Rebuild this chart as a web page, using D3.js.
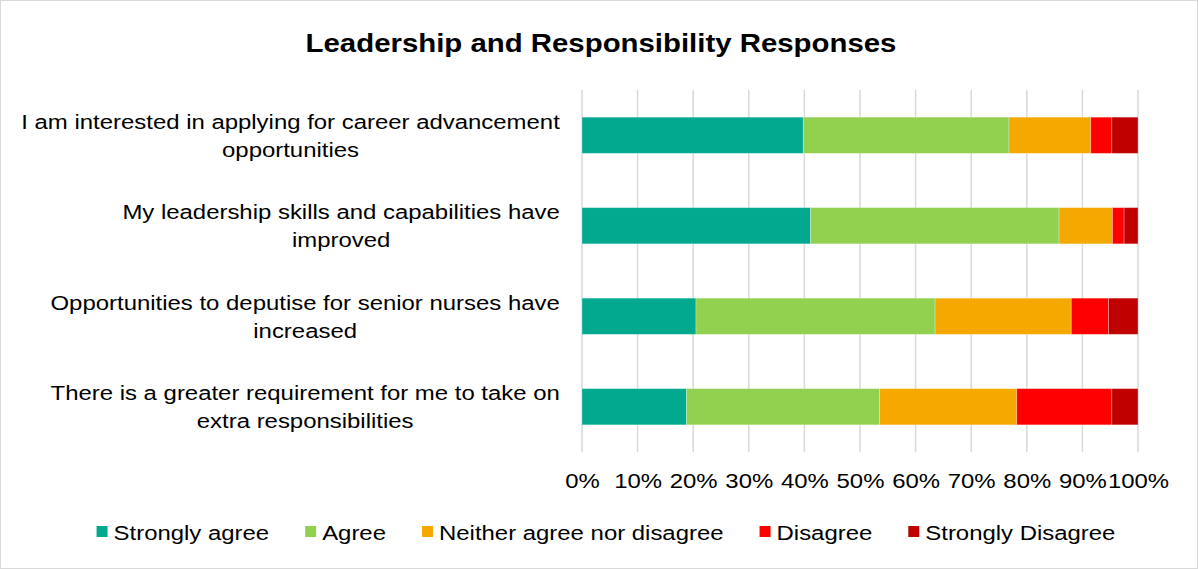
<!DOCTYPE html>
<html>
<head>
<meta charset="utf-8">
<script src="https://cdn.jsdelivr.net/npm/d3@7"></script>
<style>
  html, body { margin: 0; padding: 0; background: #fff; }
  svg { display: block; font-family: "Liberation Sans", Arial, sans-serif; }
</style>
</head>
<body>
<svg id="chart" width="1198" height="569"></svg>
<script>
// Survey statements (top to bottom) and response shares in percent
const statements = [
  ["I am interested in applying for career advancement", "opportunities"],
  ["My leadership skills and capabilities have", "improved"],
  ["Opportunities to deputise for senior nurses have", "increased"],
  ["There is a greater requirement for me to take on", "extra responsibilities"]
];
const responseLabels = ["Strongly agree", "Agree", "Neither agree nor disagree", "Disagree", "Strongly Disagree"];
const stronglyAgree = [39.8, 41.1, 20.5, 18.8];
const agree         = [37.0, 44.7, 43.0, 34.7];
const neither       = [14.7,  9.6, 24.5, 24.7];
const disagree      = [ 3.8,  2.1,  6.7, 17.1];
const stronglyDis   = [ 4.7,  2.5,  5.3,  4.7];
const tickValues = [0, 10, 20, 30, 40, 50, 60, 70, 80, 90, 100];
const palette = ["#02a98f", "#92d050", "#f5a800", "#ff0000", "#c00000"];

const seriesValues = [stronglyAgree, agree, neither, disagree, stronglyDis];
const rows = statements.map((s, i) => {
  const r = { id: i };
  responseLabels.forEach((k, j) => { r[k] = seriesValues[j][i]; });
  return r;
});

const svg = d3.select("#chart");
const W = 1198, H = 569;
const plot = { left: 582, right: 1138, top: 90, bottom: 452 };
const sx = 1.14;   // the chart's text face is set slightly wide
const fs = 21;

// outer frame
svg.append("rect")
  .attr("x", 0.5).attr("y", 0.5).attr("width", W - 1).attr("height", H - 1)
  .attr("fill", "#fff").attr("stroke", "#d9d9d9");

// title
svg.append("g").attr("transform", `translate(601,52) scale(1.13,1)`)
  .append("text")
  .attr("text-anchor", "middle")
  .attr("font-size", 26).attr("font-weight", "bold").attr("fill", "#000")
  .text("Leadership and Responsibility Responses");

const x = d3.scaleLinear().domain([0, 100]).range([plot.left, plot.right]);
const y = d3.scaleBand().domain(d3.range(statements.length))
  .range([plot.top, plot.bottom]).paddingInner(0.6).paddingOuter(0.3);

// vertical gridlines
svg.append("g")
  .selectAll("line").data(tickValues).join("line")
  .attr("x1", d => x(d)).attr("x2", d => x(d))
  .attr("y1", plot.top).attr("y2", plot.bottom)
  .attr("stroke", "#d9d9d9").attr("stroke-width", 1.5);

// stacked bars
const stack = d3.stack().keys(responseLabels)(rows);
svg.append("g")
  .selectAll("g").data(stack).join("g")
  .attr("fill", (d, i) => palette[i])
  .selectAll("rect").data(d => d).join("rect")
  .attr("x", d => x(d[0]))
  .attr("width", d => x(Math.min(d[1], 100)) - x(d[0]))
  .attr("y", d => y(d.data.id))
  .attr("height", y.bandwidth())
  .attr("stroke", "rgba(255,255,255,0.35)").attr("stroke-width", 0.8);

// x axis tick labels
const xAxis = d3.axisBottom(x).tickValues(tickValues).tickSize(0).tickFormat(d => d + "%");
const gx = svg.append("g").attr("transform", `translate(0,${plot.bottom})`).call(xAxis);
gx.select(".domain").remove();
gx.selectAll("text")
  .attr("font-size", fs).attr("fill", "#000")
  .attr("font-family", "Liberation Sans, Arial, sans-serif")
  .attr("dy", 0).attr("y", 36)
  .attr("transform", `scale(${sx},1)`);

// category labels: wrapped lines centred on each block, block right-aligned
const labelRight = 560;
const gy = svg.append("g");
statements.forEach((lines, i) => {
  const holder = gy.append("g");
  const t = holder.append("text")
    .attr("font-size", fs).attr("fill", "#000").attr("text-anchor", "middle");
  const spans = lines.map(ln => t.append("tspan").text(ln));
  const maxW = d3.max(spans, s => s.node().getComputedTextLength()) * sx;
  const cx = labelRight - maxW / 2;
  const cy = y(i) + y.bandwidth() / 2;
  const lh = 28;
  holder.attr("transform", `translate(${cx},0) scale(${sx},1)`);
  spans.forEach((s, k) => {
    s.attr("x", 0).attr("y", cy + (k - (lines.length - 1) / 2) * lh + fs * 0.36);
  });
});

// legend
const legend = svg.append("g");
const items = responseLabels.map((name, i) => {
  const g = legend.append("g");
  g.append("rect").attr("width", 11).attr("height", 11).attr("y", -6).attr("fill", palette[i]);
  const t = g.append("text").attr("y", 7.5)
    .attr("font-size", fs).attr("fill", "#000").text(name)
    .attr("transform", `translate(17,0) scale(${sx},1)`);
  return { g, w: 17 + t.node().getComputedTextLength() * sx };
});
const gap = 36;
const total = d3.sum(items, d => d.w) + gap * (items.length - 1);
let lx = 606 - total / 2;
items.forEach(it => {
  it.g.attr("transform", `translate(${lx},532)`);
  lx += it.w + gap;
});
</script>
</body>
</html>
